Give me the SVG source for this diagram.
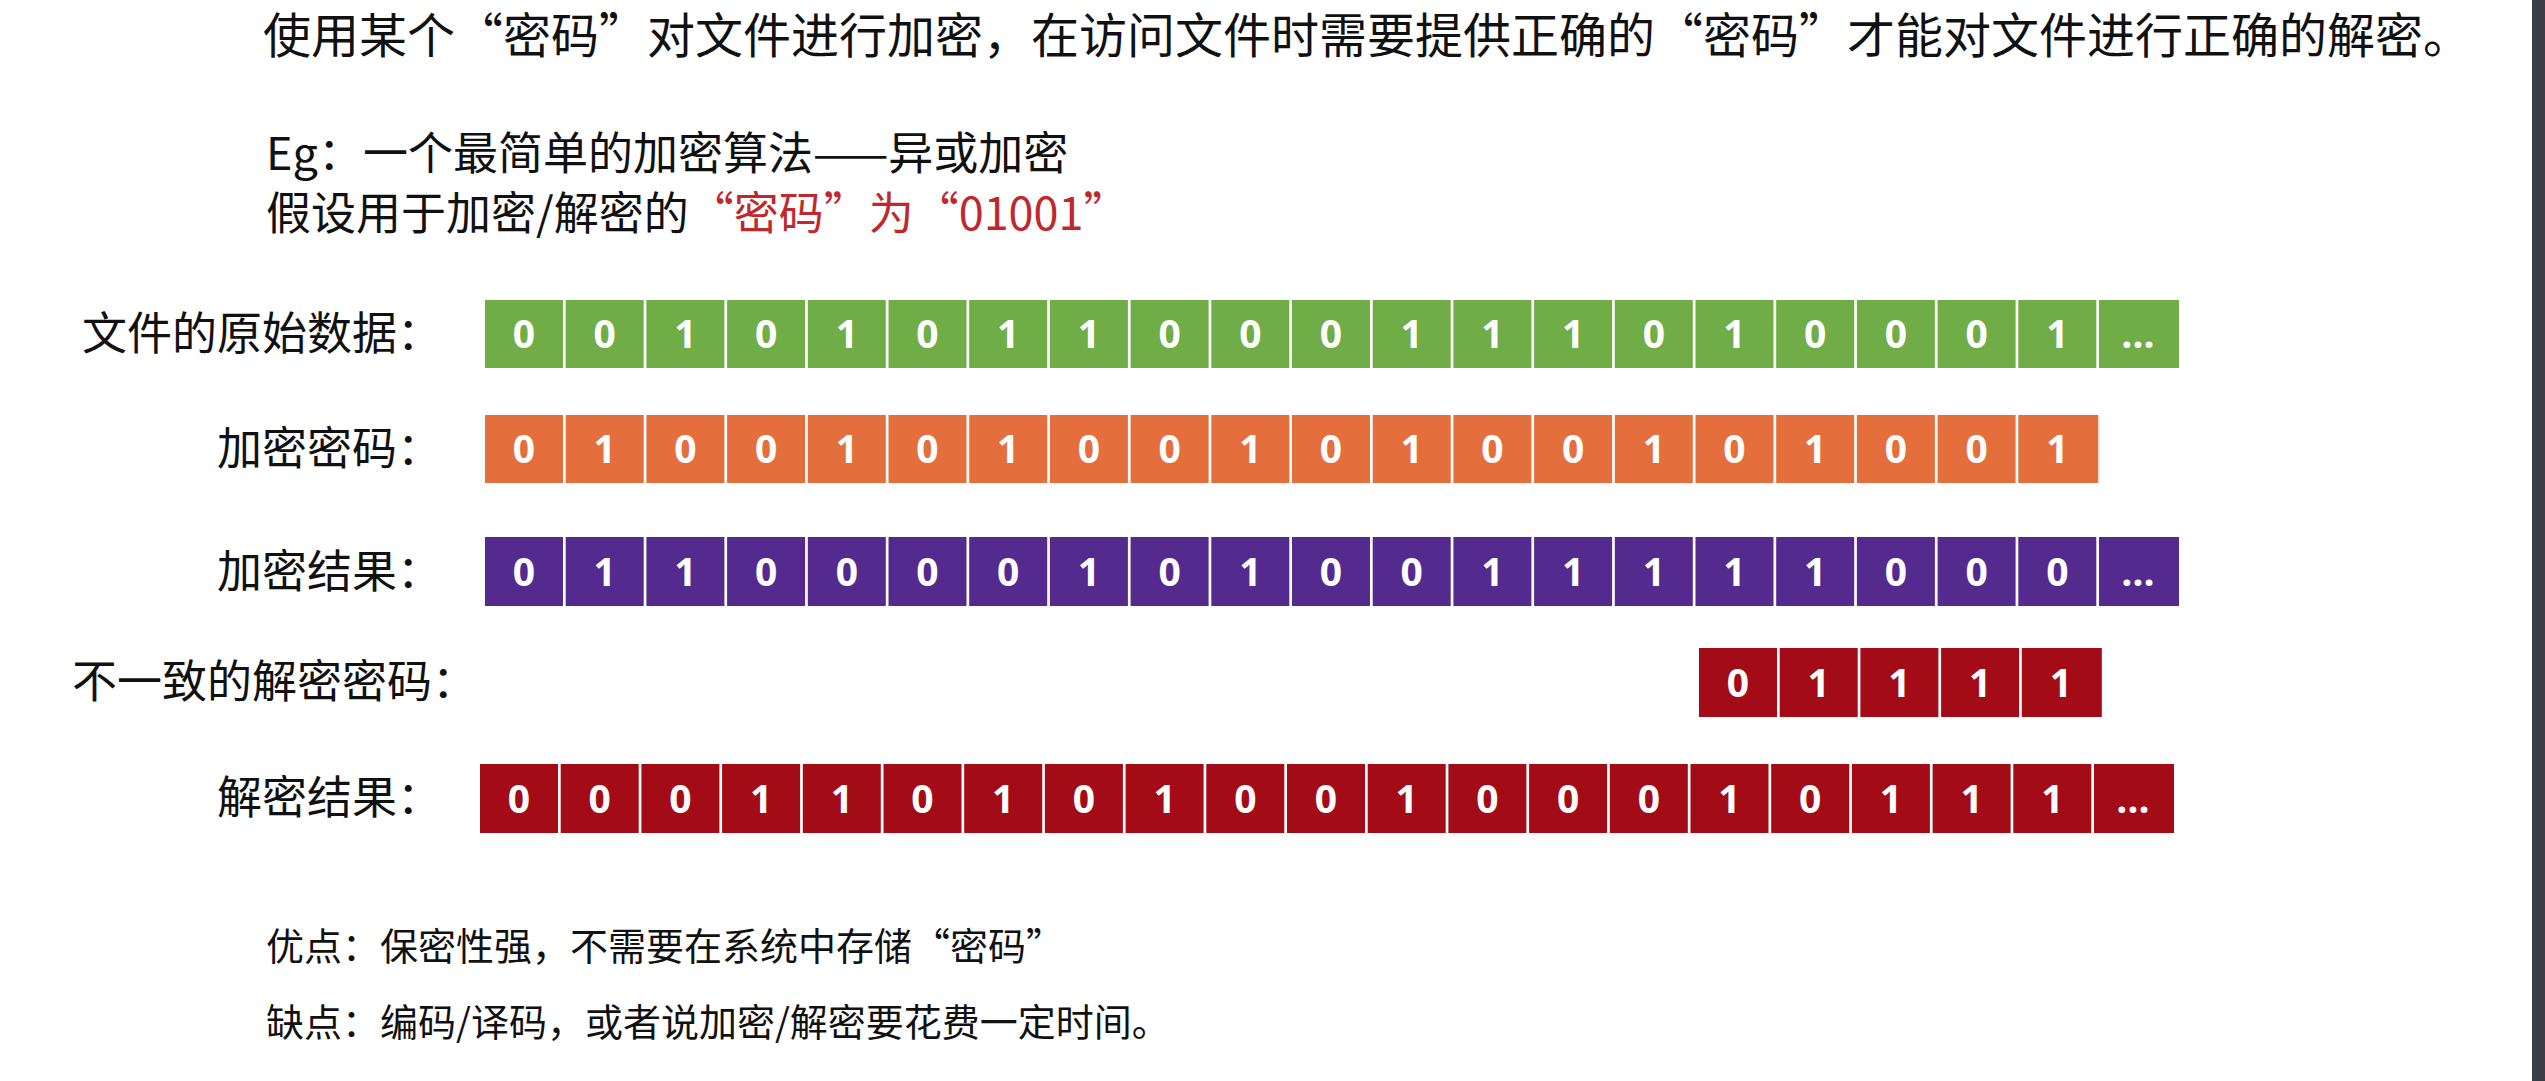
<svg xmlns="http://www.w3.org/2000/svg" width="2545" height="1081" viewBox="0 0 2545 1081">
<style>
.t{font-family:"Noto Sans CJK SC","Liberation Sans",sans-serif;fill:#111}
.h{font-size:48px}.m{font-size:38px}.e{font-size:45px}
.lb{font-size:45px;text-anchor:end}
.d{font-family:"Open Sans","Liberation Sans",sans-serif;font-weight:bold;font-size:39px;fill:#fff;text-anchor:middle}
.g rect{fill:#70ad47}.o rect{fill:#e46f3c}.p rect{fill:#552a8f}.r rect{fill:#a30b16}
</style>
<rect width="2545" height="1081" fill="#fff"/>
<rect x="2532" y="0" width="13" height="1081" fill="#3a3f47"/>
<text class="t h" x="263" y="53">使用某个“密码”对文件进行加密，在访问文件时需要提供正确的“密码”才能对文件进行正确的解密。</text>
<text class="t e" x="266" y="170">Eg：一个最简单的加密算法——异或加密</text>
<text class="t e" x="266" y="230">假设用于加密/解密的<tspan fill="#c0282d">“密码”为“01001”</tspan></text>
<text class="t m" x="266" y="960">优点：保密性强，不需要在系统中存储“密码”</text>
<text class="t m" x="266" y="1036">缺点：编码/译码，或者说加密/解密要花费一定时间。</text>
<g id="labels">
<text class="t lb" x="442" y="350">文件的原始数据：</text>
<text class="t lb" x="442" y="465">加密密码：</text>
<text class="t lb" x="442" y="588">加密结果：</text>
<text class="t lb" x="477" y="698">不一致的解密密码：</text>
<text class="t lb" x="442" y="814">解密结果：</text>
</g>
<g id="row-original" class="g">
<rect x="485" y="300" width="78" height="68"/><text class="d" x="524" y="348">0</text>
<rect x="565.7" y="300" width="78" height="68"/><text class="d" x="604.7" y="348">0</text>
<rect x="646.4" y="300" width="78" height="68"/><text class="d" x="685.4" y="348">1</text>
<rect x="727.1" y="300" width="78" height="68"/><text class="d" x="766.1" y="348">0</text>
<rect x="807.8" y="300" width="78" height="68"/><text class="d" x="846.8" y="348">1</text>
<rect x="888.5" y="300" width="78" height="68"/><text class="d" x="927.5" y="348">0</text>
<rect x="969.2" y="300" width="78" height="68"/><text class="d" x="1008.2" y="348">1</text>
<rect x="1049.9" y="300" width="78" height="68"/><text class="d" x="1088.9" y="348">1</text>
<rect x="1130.6" y="300" width="78" height="68"/><text class="d" x="1169.6" y="348">0</text>
<rect x="1211.3" y="300" width="78" height="68"/><text class="d" x="1250.3" y="348">0</text>
<rect x="1292" y="300" width="78" height="68"/><text class="d" x="1331" y="348">0</text>
<rect x="1372.7" y="300" width="78" height="68"/><text class="d" x="1411.7" y="348">1</text>
<rect x="1453.4" y="300" width="78" height="68"/><text class="d" x="1492.4" y="348">1</text>
<rect x="1534.1" y="300" width="78" height="68"/><text class="d" x="1573.1" y="348">1</text>
<rect x="1614.8" y="300" width="78" height="68"/><text class="d" x="1653.8" y="348">0</text>
<rect x="1695.5" y="300" width="78" height="68"/><text class="d" x="1734.5" y="348">1</text>
<rect x="1776.2" y="300" width="78" height="68"/><text class="d" x="1815.2" y="348">0</text>
<rect x="1856.9" y="300" width="78" height="68"/><text class="d" x="1895.9" y="348">0</text>
<rect x="1937.6" y="300" width="78" height="68"/><text class="d" x="1976.6" y="348">0</text>
<rect x="2018.3" y="300" width="78" height="68"/><text class="d" x="2057.3" y="348">1</text>
<rect x="2099" y="300" width="80" height="68"/><text class="d" x="2138" y="348">…</text>
</g>
<g id="row-key" class="o">
<rect x="485" y="415" width="78" height="68"/><text class="d" x="524" y="463">0</text>
<rect x="565.7" y="415" width="78" height="68"/><text class="d" x="604.7" y="463">1</text>
<rect x="646.4" y="415" width="78" height="68"/><text class="d" x="685.4" y="463">0</text>
<rect x="727.1" y="415" width="78" height="68"/><text class="d" x="766.1" y="463">0</text>
<rect x="807.8" y="415" width="78" height="68"/><text class="d" x="846.8" y="463">1</text>
<rect x="888.5" y="415" width="78" height="68"/><text class="d" x="927.5" y="463">0</text>
<rect x="969.2" y="415" width="78" height="68"/><text class="d" x="1008.2" y="463">1</text>
<rect x="1049.9" y="415" width="78" height="68"/><text class="d" x="1088.9" y="463">0</text>
<rect x="1130.6" y="415" width="78" height="68"/><text class="d" x="1169.6" y="463">0</text>
<rect x="1211.3" y="415" width="78" height="68"/><text class="d" x="1250.3" y="463">1</text>
<rect x="1292" y="415" width="78" height="68"/><text class="d" x="1331" y="463">0</text>
<rect x="1372.7" y="415" width="78" height="68"/><text class="d" x="1411.7" y="463">1</text>
<rect x="1453.4" y="415" width="78" height="68"/><text class="d" x="1492.4" y="463">0</text>
<rect x="1534.1" y="415" width="78" height="68"/><text class="d" x="1573.1" y="463">0</text>
<rect x="1614.8" y="415" width="78" height="68"/><text class="d" x="1653.8" y="463">1</text>
<rect x="1695.5" y="415" width="78" height="68"/><text class="d" x="1734.5" y="463">0</text>
<rect x="1776.2" y="415" width="78" height="68"/><text class="d" x="1815.2" y="463">1</text>
<rect x="1856.9" y="415" width="78" height="68"/><text class="d" x="1895.9" y="463">0</text>
<rect x="1937.6" y="415" width="78" height="68"/><text class="d" x="1976.6" y="463">0</text>
<rect x="2018.3" y="415" width="80" height="68"/><text class="d" x="2057.3" y="463">1</text>
</g>
<g id="row-encrypted" class="p">
<rect x="485" y="537" width="78" height="69"/><text class="d" x="524" y="586">0</text>
<rect x="565.7" y="537" width="78" height="69"/><text class="d" x="604.7" y="586">1</text>
<rect x="646.4" y="537" width="78" height="69"/><text class="d" x="685.4" y="586">1</text>
<rect x="727.1" y="537" width="78" height="69"/><text class="d" x="766.1" y="586">0</text>
<rect x="807.8" y="537" width="78" height="69"/><text class="d" x="846.8" y="586">0</text>
<rect x="888.5" y="537" width="78" height="69"/><text class="d" x="927.5" y="586">0</text>
<rect x="969.2" y="537" width="78" height="69"/><text class="d" x="1008.2" y="586">0</text>
<rect x="1049.9" y="537" width="78" height="69"/><text class="d" x="1088.9" y="586">1</text>
<rect x="1130.6" y="537" width="78" height="69"/><text class="d" x="1169.6" y="586">0</text>
<rect x="1211.3" y="537" width="78" height="69"/><text class="d" x="1250.3" y="586">1</text>
<rect x="1292" y="537" width="78" height="69"/><text class="d" x="1331" y="586">0</text>
<rect x="1372.7" y="537" width="78" height="69"/><text class="d" x="1411.7" y="586">0</text>
<rect x="1453.4" y="537" width="78" height="69"/><text class="d" x="1492.4" y="586">1</text>
<rect x="1534.1" y="537" width="78" height="69"/><text class="d" x="1573.1" y="586">1</text>
<rect x="1614.8" y="537" width="78" height="69"/><text class="d" x="1653.8" y="586">1</text>
<rect x="1695.5" y="537" width="78" height="69"/><text class="d" x="1734.5" y="586">1</text>
<rect x="1776.2" y="537" width="78" height="69"/><text class="d" x="1815.2" y="586">1</text>
<rect x="1856.9" y="537" width="78" height="69"/><text class="d" x="1895.9" y="586">0</text>
<rect x="1937.6" y="537" width="78" height="69"/><text class="d" x="1976.6" y="586">0</text>
<rect x="2018.3" y="537" width="78" height="69"/><text class="d" x="2057.3" y="586">0</text>
<rect x="2099" y="537" width="80" height="69"/><text class="d" x="2138" y="586">…</text>
</g>
<g id="row-wrongkey" class="r">
<rect x="1699" y="648" width="78" height="69"/><text class="d" x="1738" y="697">0</text>
<rect x="1779.7" y="648" width="78" height="69"/><text class="d" x="1818.7" y="697">1</text>
<rect x="1860.4" y="648" width="78" height="69"/><text class="d" x="1899.4" y="697">1</text>
<rect x="1941.1" y="648" width="78" height="69"/><text class="d" x="1980.1" y="697">1</text>
<rect x="2021.8" y="648" width="80" height="69"/><text class="d" x="2060.8" y="697">1</text>
</g>
<g id="row-decrypted" class="r" transform="translate(-5,0)">
<rect x="485" y="764" width="78" height="69"/><text class="d" x="524" y="813">0</text>
<rect x="565.7" y="764" width="78" height="69"/><text class="d" x="604.7" y="813">0</text>
<rect x="646.4" y="764" width="78" height="69"/><text class="d" x="685.4" y="813">0</text>
<rect x="727.1" y="764" width="78" height="69"/><text class="d" x="766.1" y="813">1</text>
<rect x="807.8" y="764" width="78" height="69"/><text class="d" x="846.8" y="813">1</text>
<rect x="888.5" y="764" width="78" height="69"/><text class="d" x="927.5" y="813">0</text>
<rect x="969.2" y="764" width="78" height="69"/><text class="d" x="1008.2" y="813">1</text>
<rect x="1049.9" y="764" width="78" height="69"/><text class="d" x="1088.9" y="813">0</text>
<rect x="1130.6" y="764" width="78" height="69"/><text class="d" x="1169.6" y="813">1</text>
<rect x="1211.3" y="764" width="78" height="69"/><text class="d" x="1250.3" y="813">0</text>
<rect x="1292" y="764" width="78" height="69"/><text class="d" x="1331" y="813">0</text>
<rect x="1372.7" y="764" width="78" height="69"/><text class="d" x="1411.7" y="813">1</text>
<rect x="1453.4" y="764" width="78" height="69"/><text class="d" x="1492.4" y="813">0</text>
<rect x="1534.1" y="764" width="78" height="69"/><text class="d" x="1573.1" y="813">0</text>
<rect x="1614.8" y="764" width="78" height="69"/><text class="d" x="1653.8" y="813">0</text>
<rect x="1695.5" y="764" width="78" height="69"/><text class="d" x="1734.5" y="813">1</text>
<rect x="1776.2" y="764" width="78" height="69"/><text class="d" x="1815.2" y="813">0</text>
<rect x="1856.9" y="764" width="78" height="69"/><text class="d" x="1895.9" y="813">1</text>
<rect x="1937.6" y="764" width="78" height="69"/><text class="d" x="1976.6" y="813">1</text>
<rect x="2018.3" y="764" width="78" height="69"/><text class="d" x="2057.3" y="813">1</text>
<rect x="2099" y="764" width="80" height="69"/><text class="d" x="2138" y="813">…</text>
</g>
</svg>
